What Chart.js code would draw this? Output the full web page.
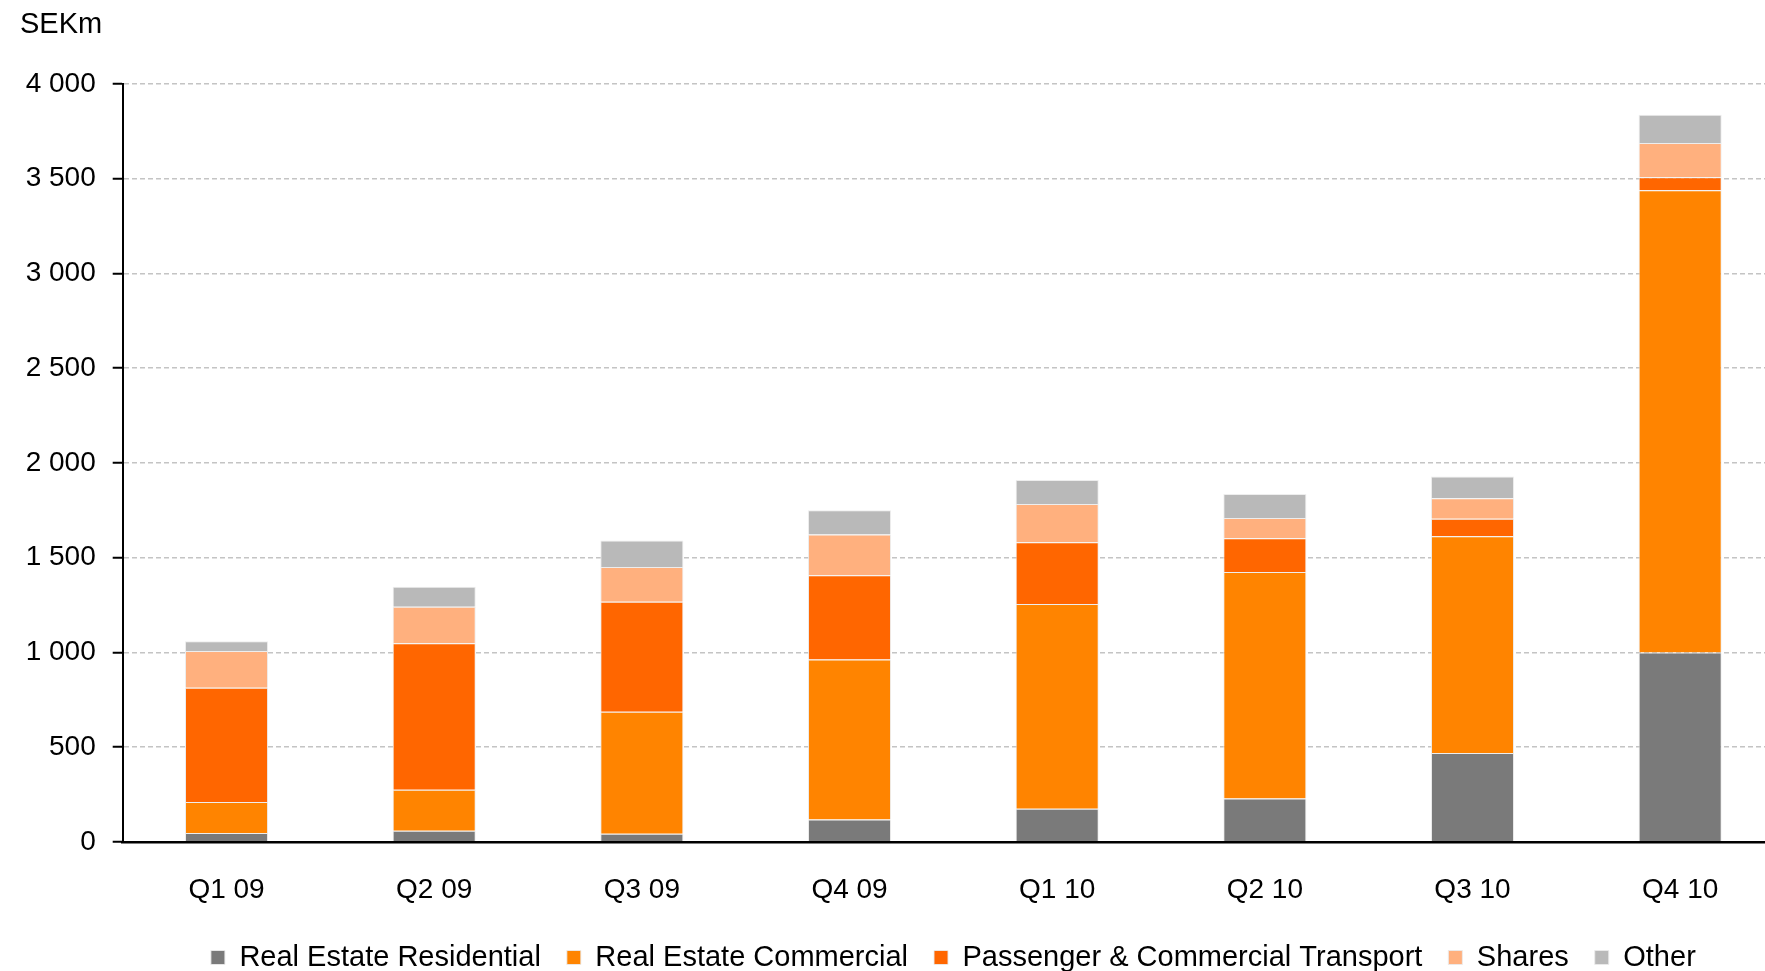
<!DOCTYPE html>
<html>
<head>
<meta charset="utf-8">
<script src="https://cdn.jsdelivr.net/npm/chart.js@4"></script>
<style>
  body { margin: 0; overflow: hidden; background: #fff; }
  #wrap { position: absolute; left: 0; top: 0; width: 1790px; height: 982px; }
</style>
</head>
<body>
<div id="wrap"><canvas id="loan-chart"></canvas></div>
<script>
const quarters = ['Q1 09', 'Q2 09', 'Q3 09', 'Q4 09', 'Q1 10', 'Q2 10', 'Q3 10', 'Q4 10'];

const residential = [48, 59, 44, 119, 176, 229, 470, 1000];
const commercial = [163, 216, 643, 844, 1079, 1195, 1143, 2439];
const transport = [603, 773, 581, 444, 326, 178, 93, 68];
const shares = [193, 193, 183, 215, 202, 107, 107, 181];
const other = [52, 106, 139, 128, 127, 127, 115, 149];

const yMax = 4000;
const yStep = 500;

const fontFamily = '"Liberation Sans", Arial, sans-serif';

// "4000" -> "4 000"
const spaced = v => String(v).replace(/\B(?=(\d{3})+(?!\d))/g, ' ');

const series = [
  { label: 'Real Estate Residential', data: residential, color: '#7a7a7a' },
  { label: 'Real Estate Commercial', data: commercial, color: '#ff8400' },
  { label: 'Passenger & Commercial Transport', data: transport, color: '#ff6600' },
  { label: 'Shares', data: shares, color: '#ffb07e' },
  { label: 'Other', data: other, color: '#b9b9b9' },
];

const chart = new Chart(document.getElementById('loan-chart').getContext('2d'), {
  type: 'bar',
  data: {
    labels: quarters,
    datasets: series.map(s => ({
      label: s.label,
      data: s.data,
      backgroundColor: s.color,
      borderColor: 'rgba(235,235,235,0.9)',
      borderWidth: 1,
      categoryPercentage: 0.8,
      barPercentage: 0.5,
    })),
  },
  options: {
    responsive: true,
    maintainAspectRatio: false,
    animation: false,
    layout: { padding: { left: 20, right: 6, top: 0, bottom: 0 } },
    plugins: {
      tooltip: { enabled: false },
      title: {
        display: true,
        text: 'SEKm',
        align: 'start',
        color: '#000',
        font: { family: fontFamily, size: 29, weight: 'normal', lineHeight: 1.2 },
        padding: { top: 8, bottom: 41 },
      },
      legend: {
        position: 'bottom',
        fullSize: false,
        labels: {
          color: '#000',
          font: { family: fontFamily, size: 29 },
          boxWidth: 14,
          boxHeight: 14,
          padding: 26,
        },
      },
    },
    scales: {
      x: {
        stacked: true,
        // invisible tick marks, only used to space the labels below the axis
        grid: {
          display: true,
          drawOnChartArea: false,
          drawTicks: true,
          tickLength: 21,
          color: 'rgba(0,0,0,0)',
          tickColor: 'rgba(0,0,0,0)',
        },
        border: { display: true, color: '#000', width: 2.5, z: 1 },
        ticks: {
          color: '#000',
          font: { family: fontFamily, size: 28, lineHeight: 0.143 },
          padding: 25,
          maxRotation: 0,
          autoSkip: false,
        },
      },
      y: {
        stacked: true,
        min: 0,
        max: yMax,
        afterFit: scale => { scale.width = 102.7; },
        grid: {
          color: '#c4c4c4',
          lineWidth: 1.5,
          tickColor: '#000',
          tickLength: 10,
          tickWidth: 2,
        },
        border: { display: true, color: '#000', width: 2, dash: [5, 3] },
        ticks: {
          stepSize: yStep,
          color: '#000',
          padding: 17,
          font: { family: fontFamily, size: 28 },
          callback: v => spaced(v),
        },
      },
    },
  },
});
</script>
</body>
</html>
